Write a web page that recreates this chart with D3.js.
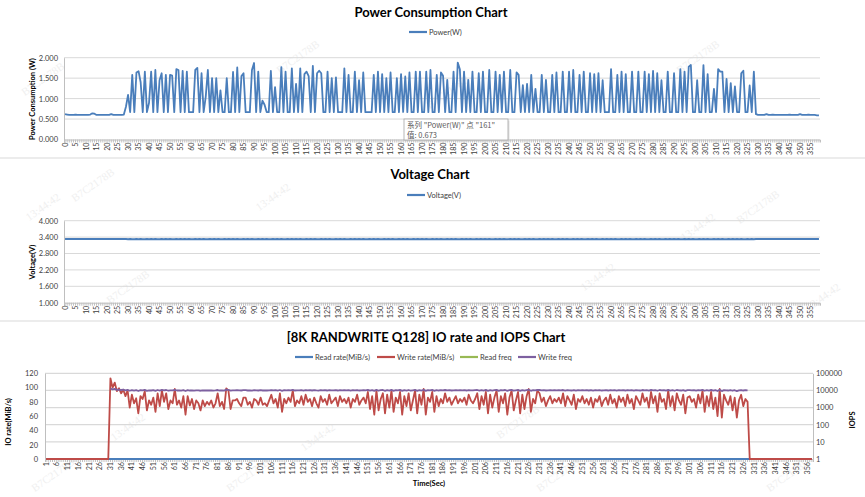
<!DOCTYPE html>
<html><head><meta charset="utf-8">
<script src="https://cdn.jsdelivr.net/npm/d3@7"></script>
<style>body{margin:0;background:#fff;} svg{display:block;font-family:Lato,"Open Sans",sans-serif;}</style>
</head><body><svg id="c" width="865" height="497"></svg>
<script>
// ---------- DATA ----------
const powerW = [
0.62,0.61,0.60,0.60,0.60,0.61,0.60,0.60,0.60,0.60,
0.60,0.60,0.61,0.64,0.63,0.60,0.60,0.60,0.60,0.60,
0.60,0.60,0.62,0.60,0.60,0.60,0.60,0.60,0.61,0.80,
1.09,0.67,1.58,0.67,1.64,1.67,1.40,0.67,1.66,0.67,
0.90,1.66,0.67,1.70,0.67,1.45,1.62,0.67,1.58,0.67,
1.58,1.56,0.67,1.72,1.70,0.67,1.68,0.67,1.66,0.67,
0.67,0.67,1.70,1.75,0.67,1.62,0.67,1.05,1.70,0.67,
1.50,0.67,1.50,0.67,1.20,0.67,0.67,1.50,0.67,0.67,
1.65,0.67,1.76,0.67,1.55,1.62,0.67,0.67,0.67,1.70,
1.87,0.67,1.66,0.67,0.95,0.85,0.67,0.67,1.68,0.67,
1.28,0.67,0.67,1.77,0.67,1.66,0.67,0.67,1.74,0.67,
1.36,0.67,1.74,0.67,1.60,1.66,1.55,0.67,1.80,0.67,
1.62,1.68,1.62,0.67,0.67,1.66,0.67,1.50,0.67,1.52,
0.67,0.67,0.67,1.74,0.67,1.58,0.67,0.67,1.66,0.67,
1.45,0.67,1.64,0.67,0.67,0.67,0.67,1.58,0.67,1.66,
0.67,1.60,0.67,1.50,0.67,1.64,0.67,0.67,1.50,0.67,
1.60,0.673,1.54,0.67,1.64,0.67,0.67,1.66,0.67,1.66,
0.67,0.67,1.66,0.67,1.70,0.67,0.67,1.58,0.67,1.64,
1.56,0.67,1.46,0.67,0.67,1.66,0.67,1.88,1.72,0.67,
1.66,0.67,1.46,0.67,1.66,0.67,0.67,1.62,0.67,1.66,
0.67,0.67,1.70,0.67,0.67,1.66,0.67,1.58,0.67,1.66,
0.67,0.67,1.70,0.67,0.67,1.64,1.58,0.67,1.33,0.67,
1.36,0.67,1.58,0.67,1.24,0.67,0.67,1.58,0.67,1.46,
0.67,0.67,1.58,0.67,1.64,0.67,0.67,1.66,0.67,0.67,
1.66,0.67,1.70,0.67,0.67,1.58,0.67,1.66,0.67,0.67,
1.62,0.67,1.60,0.67,1.62,0.67,1.45,0.67,0.67,0.67,
1.72,0.67,0.67,1.58,0.67,1.66,0.67,1.60,0.67,0.67,
1.66,0.67,0.67,1.66,0.67,0.67,1.66,0.67,1.60,0.67,
1.68,0.67,1.62,0.67,1.45,0.67,0.67,1.66,0.67,0.67,
1.62,0.67,0.67,1.72,0.67,1.66,0.67,1.78,1.82,0.67,
0.67,1.45,0.67,0.67,1.82,0.67,1.60,0.67,0.67,1.24,
0.67,1.72,1.66,1.66,0.67,1.48,0.67,1.38,0.67,1.30,
0.67,0.67,1.62,1.68,0.67,0.67,1.32,0.67,1.66,0.62,
0.60,0.60,0.60,0.60,0.62,0.60,0.60,0.61,0.60,0.60,
0.60,0.60,0.60,0.60,0.60,0.61,0.60,0.60,0.60,0.60,
0.62,0.60,0.60,0.60,0.61,0.60,0.60,0.60,0.59,0.59
];
const voltageV = [
3.33,3.33,3.33,3.33,3.33,3.33,3.33,3.33,3.33,3.33,
3.33,3.33,3.33,3.33,3.33,3.33,3.33,3.33,3.33,3.33,
3.33,3.33,3.33,3.33,3.33,3.33,3.33,3.33,3.33,3.33,
3.32,3.33,3.32,3.32,3.33,3.32,3.33,3.32,3.32,3.33,
3.32,3.33,3.32,3.33,3.32,3.32,3.33,3.32,3.33,3.32,
3.33,3.32,3.32,3.33,3.32,3.33,3.32,3.33,3.32,3.33,
3.32,3.32,3.33,3.32,3.33,3.32,3.33,3.32,3.32,3.33,
3.32,3.33,3.32,3.33,3.32,3.32,3.33,3.32,3.33,3.32,
3.33,3.32,3.33,3.32,3.32,3.33,3.32,3.33,3.32,3.33,
3.32,3.32,3.33,3.32,3.33,3.32,3.33,3.32,3.32,3.33,
3.32,3.33,3.32,3.33,3.32,3.32,3.33,3.32,3.33,3.32,
3.33,3.32,3.33,3.32,3.32,3.33,3.32,3.33,3.32,3.33,
3.32,3.32,3.33,3.32,3.33,3.32,3.33,3.32,3.32,3.33,
3.32,3.33,3.32,3.33,3.32,3.32,3.33,3.32,3.33,3.32,
3.33,3.32,3.33,3.32,3.32,3.33,3.32,3.33,3.32,3.33,
3.32,3.32,3.33,3.32,3.33,3.32,3.33,3.32,3.32,3.33,
3.32,3.33,3.32,3.33,3.32,3.32,3.33,3.32,3.33,3.32,
3.33,3.32,3.33,3.32,3.32,3.33,3.32,3.33,3.32,3.33,
3.32,3.32,3.33,3.32,3.33,3.32,3.33,3.32,3.32,3.33,
3.32,3.33,3.32,3.33,3.32,3.32,3.33,3.32,3.33,3.32,
3.33,3.32,3.33,3.32,3.32,3.33,3.32,3.33,3.32,3.33,
3.32,3.32,3.33,3.32,3.33,3.32,3.33,3.32,3.32,3.33,
3.32,3.33,3.32,3.33,3.32,3.32,3.33,3.32,3.33,3.32,
3.33,3.32,3.33,3.32,3.32,3.33,3.32,3.33,3.32,3.33,
3.32,3.32,3.33,3.32,3.33,3.32,3.33,3.32,3.32,3.33,
3.32,3.33,3.32,3.33,3.32,3.32,3.33,3.32,3.33,3.32,
3.33,3.32,3.33,3.32,3.32,3.33,3.32,3.33,3.32,3.33,
3.32,3.32,3.33,3.32,3.33,3.32,3.33,3.32,3.32,3.33,
3.32,3.33,3.32,3.33,3.32,3.32,3.33,3.32,3.33,3.32,
3.33,3.32,3.33,3.32,3.32,3.33,3.32,3.33,3.32,3.33,
3.32,3.32,3.33,3.32,3.33,3.32,3.33,3.32,3.32,3.33,
3.32,3.33,3.32,3.33,3.32,3.32,3.33,3.32,3.33,3.32,
3.33,3.32,3.33,3.32,3.32,3.33,3.32,3.33,3.32,3.33,
3.33,3.33,3.33,3.33,3.33,3.33,3.33,3.33,3.33,3.33,
3.33,3.33,3.33,3.33,3.33,3.33,3.33,3.33,3.33,3.33,
3.33,3.33,3.33,3.33,3.33,3.33,3.33,3.33,3.33,3.33
];
const powerTicks = [0, 0.5, 1, 1.5, 2];
const voltTicks = [1, 1.6, 2.2, 2.8, 3.4, 4];
const ioRateTicks = [0, 20, 40, 60, 80, 100, 120];
const iopsTicks = [1, 10, 100, 1000, 10000, 100000];

// seconds 1..358
const readRate = [
0,0,0,0,0,0,0,0,0,0, 0,0,0,0,0,0,0,0,0,0, 0,0,0,0,0,0,0,0,0,0,
0,0,0,0,0,0,0,0,0,0, 0,0,0,0,0,0,0,0,0,0, 0,0,0,0,0,0,0,0,0,0,
0,0,0,0,0,0,0,0,0,0, 0,0,0,0,0,0,0,0,0,0, 0,0,0,0,0,0,0,0,0,0,
0,0,0,0,0,0,0,0,0,0, 0,0,0,0,0,0,0,0,0,0, 0,0,0,0,0,0,0,0,0,0,
0,0,0,0,0,0,0,0,0,0, 0,0,0,0,0,0,0,0,0,0, 0,0,0,0,0,0,0,0,0,0,
0,0,0,0,0,0,0,0,0,0, 0,0,0,0,0,0,0,0,0,0, 0,0,0,0,0,0,0,0,0,0,
0,0,0,0,0,0,0,0,0,0, 0,0,0,0,0,0,0,0,0,0, 0,0,0,0,0,0,0,0,0,0,
0,0,0,0,0,0,0,0,0,0, 0,0,0,0,0,0,0,0,0,0, 0,0,0,0,0,0,0,0,0,0,
0,0,0,0,0,0,0,0,0,0, 0,0,0,0,0,0,0,0,0,0, 0,0,0,0,0,0,0,0,0,0,
0,0,0,0,0,0,0,0,0,0, 0,0,0,0,0,0,0,0,0,0, 0,0,0,0,0,0,0,0,0,0,
0,0,0,0,0,0,0,0,0,0, 0,0,0,0,0,0,0,0,0,0, 0,0,0,0,0,0,0,0,0,0,
0,0,0,0,0,0,0,0,0,0, 0,0,0,0,0,0,0,0,0,0, 0,0,0,0,0,0,0,0,0,0,
0,0,0,0,0,0,0,0,0,0, 0,0,0,0,0,0,0,0
];
const writeRate = [
0,0,0,0,0,0,0,0,0,0, 0,0,0,0,0,0,0,0,0,0, 0,0,0,0,0,0,0,0,0,0,
113,100,107,95,99,92,97,88,96,72,
90,78,85,64,88,84,95,68,82,76,
86,66,92,74,96,80,92,70,82,78,
98,76,82,72,88,62,88,75,84,70,
82,78,68,82,74,80,76,82,72,78,
92,74,80,70,99,96,70,82,82,84,
78,74,86,86,76,80,72,84,82,76,
86,76,78,74,82,90,78,84,72,92,
66,84,78,86,80,96,74,82,78,88,
76,90,80,84,74,86,78,72,88,80,
84,76,90,78,82,86,74,88,80,84,
78,86,72,84,80,90,76,82,86,78,
94,70,88,62,96,68,84,92,64,90,
72,96,66,86,78,94,62,88,74,92,
68,82,96,64,90,76,98,62,86,80,
94,66,88,74,84,78,92,80,86,76,
82,88,78,84,80,86,76,90,82,78,
84,92,70,88,76,94,64,90,72,86,
96,66,88,78,92,62,86,96,68,82,
94,64,90,70,88,98,66,84,78,96,
92,80,86,74,82,88,78,84,80,86,
78,92,74,88,82,76,90,70,84,80,
88,78,84,76,86,72,84,80,88,74,
82,86,76,90,78,84,72,88,80,86,
74,90,78,84,70,88,82,76,92,80,
86,72,94,78,88,66,92,80,84,70,
96,74,88,68,92,82,76,90,64,86,
88,80,84,72,90,78,96,66,88,74,
94,70,86,60,98,58,90,82,76,88,
68,86,58,82,90,74,84,80,0,0,
0,0,0,0,0,0,0,0,0,0, 0,0,0,0,0,0,0,0,0,0, 0,0,0,0,0,0,0,0
];
const readFreq = [
0,0,0,0,0,0,0,0,0,0, 0,0,0,0,0,0,0,0,0,0, 0,0,0,0,0,0,0,0,0,0,
0,0,0,0,0,0,0,0,0,0, 0,0,0,0,0,0,0,0,0,0, 0,0,0,0,0,0,0,0,0,0,
0,0,0,0,0,0,0,0,0,0, 0,0,0,0,0,0,0,0,0,0, 0,0,0,0,0,0,0,0,0,0,
0,0,0,0,0,0,0,0,0,0, 0,0,0,0,0,0,0,0,0,0, 0,0,0,0,0,0,0,0,0,0,
0,0,0,0,0,0,0,0,0,0, 0,0,0,0,0,0,0,0,0,0, 0,0,0,0,0,0,0,0,0,0,
0,0,0,0,0,0,0,0,0,0, 0,0,0,0,0,0,0,0,0,0, 0,0,0,0,0,0,0,0,0,0,
0,0,0,0,0,0,0,0,0,0, 0,0,0,0,0,0,0,0,0,0, 0,0,0,0,0,0,0,0,0,0,
0,0,0,0,0,0,0,0,0,0, 0,0,0,0,0,0,0,0,0,0, 0,0,0,0,0,0,0,0,0,0,
0,0,0,0,0,0,0,0,0,0, 0,0,0,0,0,0,0,0,0,0, 0,0,0,0,0,0,0,0,0,0,
0,0,0,0,0,0,0,0,0,0, 0,0,0,0,0,0,0,0,0,0, 0,0,0,0,0,0,0,0,0,0,
0,0,0,0,0,0,0,0,0,0, 0,0,0,0,0,0,0,0,0,0, 0,0,0,0,0,0,0,0,0,0,
0,0,0,0,0,0,0,0,0,0, 0,0,0,0,0,0,0,0,0,0, 0,0,0,0,0,0,0,0,0,0,
0,0,0,0,0,0,0,0,0,0, 0,0,0,0,0,0,0,0
];
const writeFreq = [
null,null,null,null,null,null,null,null,null,null,
null,null,null,null,null,null,null,null,null,null,
null,null,null,null,null,null,null,null,null,null,
12600,11400,12200,10900,11300,10600,11000,10200,10700,9600,
10400,9800,10300,9300,10500,10200,10800,9500,10100,9900,
10300,9400,10600,9800,10800,10100,10600,9600,10200,10000,
10900,9900,10200,9700,10400,9300,10400,9900,10200,9700,
10200,10000,9600,10200,9900,10100,9900,10200,9800,10000,
10600,9900,10100,9700,11200,10900,9700,10200,10200,10300,
10000,9900,10300,10300,9900,10100,9800,10300,10200,9900,
10300,9900,10000,9900,10200,10500,10000,10300,9800,10600,
9500,10300,10000,10300,10100,10800,9900,10200,10000,10400,
9900,10500,10100,10300,9900,10300,10000,9800,10400,10100,
10300,9900,10500,10000,10200,10300,9900,10400,10100,10300,
10000,10300,9800,10300,10100,10500,9900,10200,10300,10000,
10700,9700,10400,9400,10800,9600,10300,10600,9500,10500,
9800,10800,9500,10300,10000,10700,9400,10400,9900,10600,
9600,10200,10800,9500,10500,9900,11000,9400,10300,10100,
10700,9500,10400,9900,10300,10000,10600,10100,10300,9900,
10200,10400,10000,10300,10100,10300,9900,10500,10200,10000,
10300,10600,9700,10400,9900,10700,9500,10500,9800,10300,
10800,9500,10400,10000,10600,9400,10300,10800,9600,10200,
10700,9500,10500,9700,10400,11000,9500,10300,10000,10800,
10600,10100,10300,9900,10200,10400,10000,10300,10100,10300,
10000,10600,9900,10400,10200,9900,10500,9700,10300,10100,
10400,10000,10300,9900,10300,9800,10300,10100,10400,9900,
10200,10300,9900,10500,10000,10300,9800,10400,10100,10300,
9900,10500,10000,10300,9700,10400,10200,9900,10600,10100,
10300,9800,10700,10000,10400,9600,10600,10100,10300,9700,
10800,9900,10400,9600,10600,10200,9900,10500,9400,10300,
10400,10100,10300,9800,10500,10000,10800,9600,10400,9900,
10700,9700,10300,9300,11000,9200,10500,10200,9900,10400,
9600,10300,9200,10200,10500,9900,10300,10100,null,null,
null,null,null,null,null,null,null,null,null,null,
null,null,null,null,null,null,null,null,null,null,
null,null,null,null,null,null,null,null
];

// ---------- DRAWING ----------
const svg = d3.select("#c");
const GRID = "#d9d9d9", AXIS = "#bfbfbf", TXT = "#404040";
const BLUE = "#4a7ebb", RED = "#be4b48", GREEN = "#98b954", PURPLE = "#7d60a0";

// faint watermarks
const wm = [
 [45,210,"13:44:42"],[95,188,"B7C2178B"],[275,200,"13:44:42"],[130,290,"B7C2178B"],
 [300,60,"B7C2178B"],[45,82,"B7C2178B"],[130,430,"13:44:42"],[320,440,"13:44:42"],
 [520,425,"B7C2178B"],[700,230,"13:44:42"],[760,210,"B7C2178B"],[600,280,"13:44:42"],
 [825,300,"13:44:42"],[700,60,"B7C2178B"],[450,95,"B7C2178B"],[560,478,"B7C2178B"],
 [55,478,"B7C2178B"],[250,478,"B7C2178B"],[790,478,"B7C2178B"]
];
svg.append("g").selectAll("text").data(wm).join("text")
  .attr("transform", d => `translate(${d[0]},${d[1]}) rotate(-35)`)
  .attr("text-anchor","middle").attr("font-family","Liberation Serif, serif")
  .attr("font-size", 11).attr("fill", "#f0f0f0").text(d => d[2]);

// separators
[158, 321].forEach(y => svg.append("line").attr("x1",0).attr("x2",865).attr("y1",y).attr("y2",y)
  .attr("stroke","#d9d9d9").attr("stroke-width",1));

function title(x, y, t) {
  svg.append("text").attr("x", x).attr("y", y).attr("text-anchor","middle")
    .attr("font-weight","bold").attr("font-size",13).attr("fill","#000").text(t);
}
function legendItem(x, y, color, label) {
  svg.append("line").attr("x1", x).attr("x2", x+18).attr("y1", y).attr("y2", y)
    .attr("stroke", color).attr("stroke-width", 2.2);
  svg.append("text").attr("x", x+20).attr("y", y).attr("dy","0.35em")
    .attr("font-size", 7.5).attr("fill", TXT).text(label);
}
function yTitle(x, y, t) {
  svg.append("text").attr("transform", `translate(${x},${y}) rotate(-90)`)
    .attr("text-anchor","middle").attr("font-weight","bold").attr("font-size",7.5)
    .attr("fill","#000").text(t);
}
function xCatAxis(x, yPos, labelFn) {
  const g = svg.append("g").attr("transform", `translate(0,${yPos})`)
    .call(d3.axisBottom(x).tickSize(3).tickPadding(2).tickFormat(""));
  g.select(".domain").attr("stroke", AXIS);
  g.selectAll(".tick line").attr("stroke", AXIS);
  const labs = x.domain().filter(labelFn);
  svg.append("g").selectAll("text").data(labs).join("text")
    .attr("transform", d => `translate(${x(d) + x.bandwidth()/2},${yPos + 3}) rotate(-90)`)
    .attr("text-anchor","end").attr("dy","0.35em")
    .attr("font-size", 7.2).attr("fill", TXT).text(d => d);
}

// ===== Power chart =====
const catsA = d3.range(360);
const xA = d3.scaleBand().domain(catsA).range([64, 820]);
const yP = d3.scaleLinear().domain([0, 2]).range([139.5, 57.7]);
title(431, 17, "Power Consumption Chart");
legendItem(409, 32, BLUE, "Power(W)");
svg.append("g").selectAll("line").data(powerTicks.slice(1)).join("line")
  .attr("x1", 64).attr("x2", 820).attr("y1", d => yP(d)).attr("y2", d => yP(d))
  .attr("stroke", GRID);
svg.append("g").attr("transform","translate(64,0)")
  .call(d3.axisLeft(yP).tickValues(powerTicks).tickSize(0).tickPadding(6).tickFormat(d3.format(".3f")))
  .call(g => g.select(".domain").attr("stroke", AXIS))
  .call(g => g.selectAll("text").attr("font-size",7.5).attr("fill",TXT).attr("font-family","Lato, sans-serif"));
xCatAxis(xA, 139.5, d => d % 5 === 0);
yTitle(35, 99, "Power Consumption (W)");
svg.append("path").datum(powerW)
  .attr("d", d3.line().x((d,i) => xA(catsA[i]) + xA.bandwidth()/2).y(d => yP(d)))
  .attr("fill","none").attr("stroke", BLUE).attr("stroke-width", 1.8).attr("stroke-linejoin","round");

// tooltip
const tip = svg.append("g").attr("transform","translate(404,119)");
tip.append("rect").attr("x",1.5).attr("y",1.5).attr("width",104).attr("height",21).attr("fill","#cfcfcf").attr("opacity",0.6);
tip.append("rect").attr("width",104).attr("height",21).attr("fill","#fff").attr("stroke","#a6a6a6").attr("stroke-width",0.8);
tip.append("text").attr("x",3).attr("y",8.5).attr("font-size",7.5).attr("fill","#595959")
  .attr("font-family","'Noto Sans CJK SC', sans-serif").text('系列 "Power(W)" 点 "161"');
tip.append("text").attr("x",3).attr("y",18.5).attr("font-size",7.5).attr("fill","#595959")
  .attr("font-family","'Noto Sans CJK SC', sans-serif").text('值: 0.673');

// ===== Voltage chart =====
const yV = d3.scaleLinear().domain([1, 4]).range([302.7, 220.7]);
title(430, 179, "Voltage Chart");
legendItem(407, 195, BLUE, "Voltage(V)");
svg.append("g").selectAll("line").data(voltTicks.slice(1)).join("line")
  .attr("x1", 64).attr("x2", 820).attr("y1", d => yV(d)).attr("y2", d => yV(d))
  .attr("stroke", GRID);
svg.append("g").attr("transform","translate(64,0)")
  .call(d3.axisLeft(yV).tickValues(voltTicks).tickSize(0).tickPadding(6).tickFormat(d3.format(".3f")))
  .call(g => g.select(".domain").attr("stroke", AXIS))
  .call(g => g.selectAll("text").attr("font-size",7.5).attr("fill",TXT).attr("font-family","Lato, sans-serif"));
xCatAxis(xA, 302.7, d => d % 5 === 0);
yTitle(35, 262, "Voltage(V)");
svg.append("path").datum(voltageV)
  .attr("d", d3.line().x((d,i) => xA(catsA[i]) + xA.bandwidth()/2).y(d => yV(d)))
  .attr("fill","none").attr("stroke", BLUE).attr("stroke-width", 2).attr("stroke-linejoin","round");

// ===== IO chart =====
const catsB = d3.range(1, 359);
const xB = d3.scaleBand().domain(catsB).range([45, 813]);
const yL = d3.scaleLinear().domain([0, 120]).range([459, 373.3]);
const yR = d3.scaleLog().domain([1, 100000]).range([459, 373.3]);
title(426, 342, "[8K RANDWRITE Q128] IO rate and IOPS Chart");
legendItem(295, 357, BLUE, "Read rate(MiB/s)");
legendItem(377, 357, RED, "Write rate(MiB/s)");
legendItem(460, 357, GREEN, "Read freq");
legendItem(518, 357, PURPLE, "Write freq");
svg.append("g").selectAll("line").data(iopsTicks.slice(1)).join("line")
  .attr("x1", 45).attr("x2", 813).attr("y1", d => yR(d)).attr("y2", d => yR(d))
  .attr("stroke", GRID).attr("stroke-width", 1.2);
svg.append("g").attr("transform","translate(45,0)")
  .call(d3.axisLeft(yL).tickValues(ioRateTicks).tickSize(0).tickPadding(7).tickFormat(d3.format("d")))
  .call(g => g.select(".domain").attr("stroke", AXIS))
  .call(g => g.selectAll("text").attr("font-size",7.5).attr("fill",TXT).attr("font-family","Lato, sans-serif"));
svg.append("g").attr("transform","translate(813,0)")
  .call(d3.axisRight(yR).tickValues(iopsTicks).tickSize(0).tickPadding(3).tickFormat(d3.format("d")))
  .call(g => g.select(".domain").attr("stroke", AXIS))
  .call(g => g.selectAll("text").attr("font-size",7.5).attr("fill",TXT).attr("font-family","Lato, sans-serif"));
xCatAxis(xB, 459, d => d % 5 === 1);
yTitle(11, 422, "IO rate(MiB/s)");
svg.append("text").attr("transform","translate(855,420) rotate(-90)").attr("text-anchor","middle")
  .attr("font-weight","bold").attr("font-size",7.5).attr("fill","#000").text("IOPS");
svg.append("text").attr("x", 429).attr("y", 486).attr("text-anchor","middle")
  .attr("font-weight","bold").attr("font-size",7.5).attr("fill","#000").text("Time(Sec)");

const cxB = i => xB(catsB[i]) + xB.bandwidth()/2;
svg.append("path").datum(readRate)
  .attr("d", d3.line().x((d,i) => cxB(i)).y(d => yL(d)))
  .attr("fill","none").attr("stroke", BLUE).attr("stroke-width", 1.8);
svg.append("path").datum(readFreq)
  .attr("d", d3.line().defined(d => d != null && d > 0).x((d,i) => cxB(i)).y(d => yR(d)))
  .attr("fill","none").attr("stroke", GREEN).attr("stroke-width", 1.8);
svg.append("path").datum(writeRate)
  .attr("d", d3.line().x((d,i) => cxB(i)).y(d => yL(d)))
  .attr("fill","none").attr("stroke", RED).attr("stroke-width", 1.8).attr("stroke-linejoin","round");
svg.append("path").datum(writeFreq)
  .attr("d", d3.line().defined(d => d != null && d > 0).x((d,i) => cxB(i)).y(d => yR(d)))
  .attr("fill","none").attr("stroke", PURPLE).attr("stroke-width", 1.8).attr("stroke-linejoin","round");
</script>
</body></html>
